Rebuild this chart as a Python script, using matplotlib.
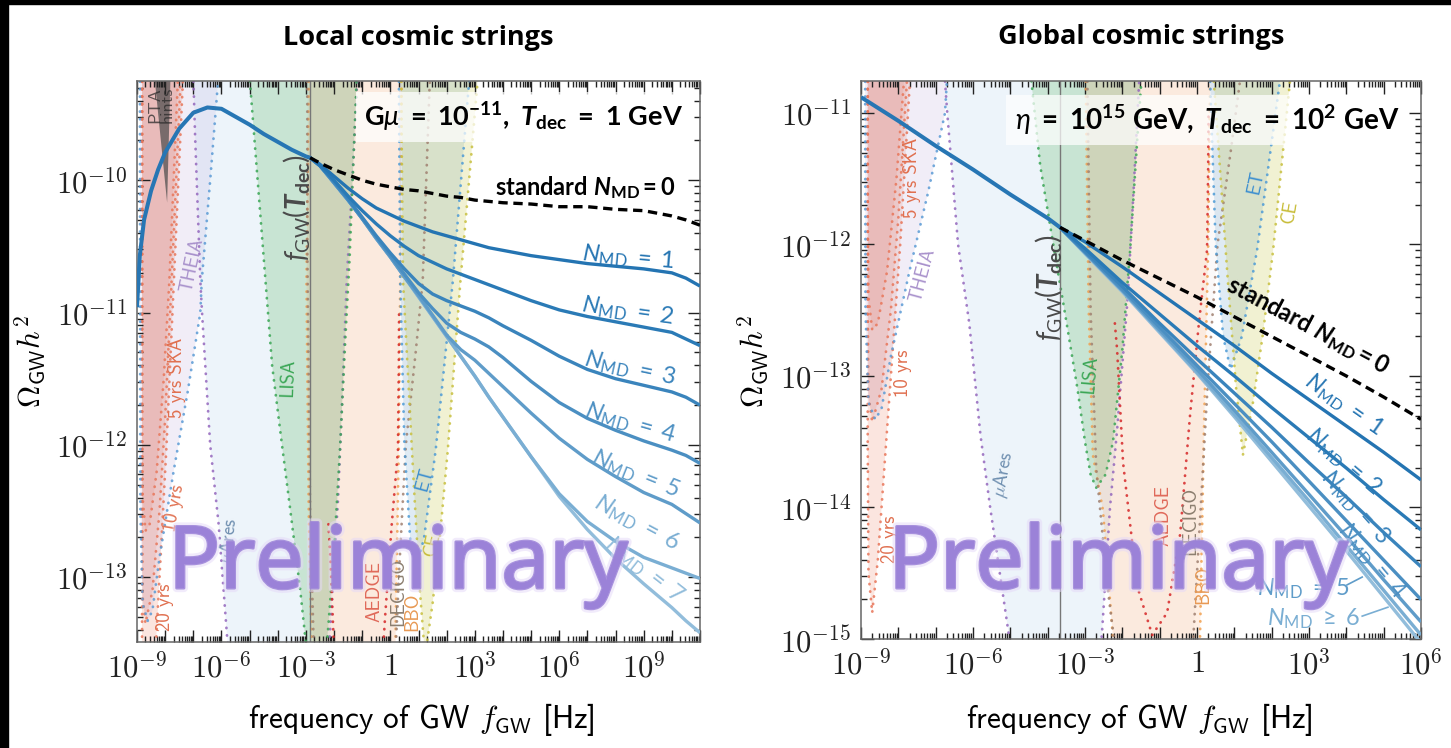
import numpy as np
import matplotlib
matplotlib.use("Agg")
import matplotlib.pyplot as plt
from matplotlib import patheffects as pe
from matplotlib.patches import Rectangle
from matplotlib.lines import Line2D
from matplotlib.ticker import LogLocator, FuncFormatter, NullFormatter

plt.rcParams.update({
    "mathtext.fontset": "cm",
    "mathtext.rm": "Lato",
    "mathtext.it": "Lato:italic",
    "mathtext.bf": "Lato:bold",
    "mathtext.bfit": "Lato:italic:bold",
    "mathtext.sf": "Lato",
})

# ---------------------------------------------------------------- spectra
# all values are log10(f / Hz) and log10(Omega_GW h^2)

# local strings, G mu = 1e-11, T_dec = 1 GeV
local_lf_early = [-9.0, -8.9, -8.75, -8.5, -8.25, -8.0, -7.5, -7.0, -6.5, -6.0,
                  -5.5, -5.0, -4.5, -4.0, -3.5, -3.0, -2.85]
local_lo_early = [-10.96, -10.57, -10.30, -10.08, -9.92, -9.79, -9.61, -9.49, -9.45, -9.46,
                  -9.52, -9.58, -9.65, -9.71, -9.77, -9.82, -9.83]
local_lf_late = [-2.85, -2.5, -2, -1.5, -1, -0.5, 0, 0.5, 1, 1.5, 2, 2.5, 3, 3.5, 4,
                 5, 6, 7, 8, 9, 10, 10.5, 11]
local_lo_std = [-9.83, -9.87, -9.92, -9.96, -10.00, -10.03, -10.05, -10.07, -10.08, -10.10, -10.12,
                -10.13, -10.15, -10.16, -10.17, -10.18, -10.20, -10.20, -10.22, -10.23, -10.27,
                -10.30, -10.34]
local_lo_nmd1 = [-9.83, -9.88, -9.97, -10.06, -10.14, -10.21, -10.26, -10.31, -10.35, -10.39,
                 -10.42, -10.45, -10.48, -10.51, -10.53, -10.57, -10.60, -10.63, -10.65, -10.67,
                 -10.70, -10.74, -10.80]
local_lo_nmd2 = [-9.83, -9.89, -10.00, -10.12, -10.23, -10.33, -10.42, -10.50, -10.57, -10.62,
                 -10.67, -10.71, -10.75, -10.79, -10.83, -10.91, -10.98, -11.03, -11.07, -11.11,
                 -11.15, -11.20, -11.25]
local_lo_nmd3 = [-9.83, -9.89, -10.01, -10.14, -10.28, -10.42, -10.55, -10.67, -10.78, -10.86,
                 -10.91, -10.95, -10.99, -11.04, -11.10, -11.21, -11.33, -11.43, -11.50, -11.55,
                 -11.60, -11.64, -11.70]
local_lo_nmd4 = [-9.83, -9.89, -10.02, -10.15, -10.29, -10.43, -10.57, -10.71, -10.85, -10.97,
                 -11.08, -11.15, -11.20, -11.26, -11.34, -11.52, -11.68, -11.80, -11.89, -11.97,
                 -12.04, -12.08, -12.14]
local_lo_nmd5 = [-9.83, -9.89, -10.02, -10.15, -10.29, -10.44, -10.58, -10.73, -10.87, -11.02,
                 -11.17, -11.28, -11.36, -11.46, -11.56, -11.76, -11.95, -12.11, -12.24, -12.36,
                 -12.45, -12.52, -12.59]
local_lo_nmd6 = [-9.83, -9.89, -10.02, -10.15, -10.29, -10.44, -10.58, -10.73, -10.88, -11.03,
                 -11.18, -11.33, -11.48, -11.64, -11.79, -12.09, -12.37, -12.58, -12.73, -12.85,
                 -12.93, -12.97, -13.01]
local_lo_nmd7 = [-9.83, -9.89, -10.02, -10.15, -10.29, -10.44, -10.58, -10.73, -10.88, -11.03,
                 -11.18, -11.33, -11.48, -11.64, -11.79, -12.09, -12.39, -12.64, -12.86, -13.05,
                 -13.23, -13.33, -13.42]
local_lf_dec = -2.85

# global strings, eta = 1e15 GeV, T_dec = 1e2 GeV
global_lf_early = [-9, -8, -7, -6, -5, -4, -3.67]
global_lo_early = [-10.88, -11.06, -11.25, -11.43, -11.62, -11.80, -11.87]
global_lf_late = [-3.67, -3, -2, -1, 0, 1, 2, 3, 4, 5, 6]
global_lo_std = [-11.87, -11.97, -12.12, -12.26, -12.40, -12.55, -12.70, -12.85, -13.00, -13.16, -13.33]
global_lo_nmd1 = [-11.87, -11.98, -12.17, -12.37, -12.57, -12.77, -12.98, -13.18, -13.38, -13.58, -13.79]
global_lo_nmd2 = [-11.87, -12.03, -12.29, -12.53, -12.77, -13.00, -13.24, -13.47, -13.70, -13.94, -14.17]
global_lo_nmd3 = [-11.87, -12.05, -12.32, -12.60, -12.87, -13.13, -13.39, -13.66, -13.92, -14.19, -14.45]
global_lo_nmd4 = [-11.87, -12.06, -12.34, -12.63, -12.92, -13.21, -13.50, -13.80, -14.10, -14.40, -14.70]
global_lo_nmd5 = [-11.87, -12.06, -12.35, -12.65, -12.95, -13.26, -13.58, -13.90, -14.22, -14.55, -14.87]
global_lo_nmd6 = [-11.87, -12.06, -12.35, -12.66, -12.97, -13.29, -13.62, -13.95, -14.29, -14.63, -14.97]
global_lo_nmd7 = [-11.87, -12.07, -12.36, -12.67, -12.98, -13.31, -13.65, -13.99, -14.33, -14.68, -15.03]
global_lf_dec = -3.67

# ---------------------------------------------------------------- detector sensitivities
ska5_lf = [-8.82, -8.82, -8.80, -8.70, -8.55, -8.30, -8.05, -7.85, -7.55, -7.40]
ska5_lo = [-8.50, -11.80, -12.40, -12.65, -12.60, -12.20, -11.50, -10.76, -9.25, -8.50]
ska10_lf = [-8.82, -8.82, -8.80, -8.70, -8.45, -8.20, -8.00, -7.77, -7.45, -7.30]
ska10_lo = [-8.50, -12.50, -13.15, -13.35, -13.10, -12.50, -11.80, -10.76, -9.25, -8.50]
ska20_lf = [-8.82, -8.82, -8.80, -8.70, -8.55, -8.40, -8.20, -7.95, -7.69, -7.37, -7.20]
ska20_lo = [-8.50, -13.50, -14.50, -14.80, -14.40, -13.80, -13.00, -12.00, -10.76, -9.25, -8.50]
pta_lf = [-8.72, -7.72, -7.93]
pta_lo = [-8.50, -8.50, -10.17]
theia_lf = [-8.90, -8.88, -8.80, -8.62, -8.45, -8.20, -7.70, -7.20, -6.75, -6.70, -6.40, -6.12, -6.05]
theia_lo = [-8.50, -12.50, -13.20, -13.33, -13.25, -12.85, -12.20, -11.60, -11.00, -10.76, -10.00, -9.25, -8.50]
mu_ares_lf = [-7.10, -6.94, -6.75, -6.69, -6.40, -6.10, -5.80, -5.54, -5.06, -4.60, -4.00, -3.20,
              -2.80, -2.54, -2.33, -2.14, -1.86, -1.70, -1.55, -1.35, -1.18, -1.10]
mu_ares_lo = [-8.50, -9.64, -10.76, -11.00, -12.00, -12.60, -13.45, -14.00, -14.93, -15.80, -16.50, -16.60,
              -16.00, -14.93, -14.00, -13.41, -12.42, -11.60, -10.76, -10.00, -9.25, -8.50]
lisa_lf = [-5.30, -4.99, -4.52, -4.20, -3.85, -3.55, -3.20, -3.00, -2.85, -2.70,
           -2.45, -2.25, -2.00, -1.79, -1.60, -1.45, -1.20, -1.05]
lisa_lo = [-8.50, -9.25, -10.53, -11.40, -12.00, -12.50, -13.10, -13.50, -13.75, -13.85,
           -13.75, -13.50, -12.80, -12.04, -11.20, -10.60, -9.25, -8.50]
bbo_lf = [-2.90, -2.90, -2.98, -2.90, -2.79, -2.52, -2.25, -1.90, -1.20, -0.40,
          0.00, 0.08, 0.18, 0.30, 0.35, 0.40, 0.45]
bbo_lo = [-8.50, -9.25, -10.76, -12.50, -13.60, -14.02, -15.00, -16.20, -17.00, -16.80,
          -16.00, -15.00, -13.50, -12.00, -10.76, -9.25, -8.50]
decigo_lf = [-2.95, -2.95, -2.85, -2.70, -2.40, -2.00, -1.00, -0.30, -0.10, 0.10, 0.30,
             0.55, 0.90, 1.15, 1.40, 1.50]
decigo_lo = [-8.50, -10.50, -12.50, -13.70, -14.60, -15.50, -16.30, -15.90, -15.00, -14.00, -13.00,
             -12.00, -11.30, -10.76, -9.25, -8.50]
aedge_lf = [-2.20, -2.14, -1.98, -1.60, -1.20, -0.80, -0.45, -0.19, 0.05, 0.27, 0.30, 0.31]
aedge_lo = [-12.60, -12.80, -13.66, -14.60, -14.97, -14.80, -14.20, -13.31, -12.60, -12.04, -11.40, -11.00]
et_lf = [0.28, 0.35, 0.50, 0.70, 0.90, 1.20, 1.61, 2.22, 2.80, 2.95]
et_lo = [-8.50, -10.76, -12.00, -12.70, -12.95, -12.70, -12.04, -10.76, -9.25, -8.50]
ce_lf = [0.35, 0.45, 0.83, 1.05, 1.23, 1.50, 1.77, 2.04, 2.49, 3.10, 3.25]
ce_lo = [-8.50, -10.76, -12.29, -13.10, -13.60, -13.20, -12.67, -12.04, -10.76, -9.25, -8.50]

# drawing order: lf, lo, fill colour, fill alpha, dotted edge colour
detectors = [
    (ska20_lf, ska20_lo, "#f08a70", 0.22, "#e8765a"),
    (ska10_lf, ska10_lo, "#f08a70", 0.22, "#e8765a"),
    (ska5_lf, ska5_lo, "#f08a70", 0.22, "#e8765a"),
    (theia_lf, theia_lo, "#b9a6d9", 0.20, "#5b9bd5"),
    (mu_ares_lf, mu_ares_lo, "#a9c8e8", 0.20, "#9467bd"),
    (lisa_lf, lisa_lo, "#2ca02c", 0.19, "#3aa655"),
    (bbo_lf, bbo_lo, "#ffa45c", 0.17, "#f0a050"),
    (decigo_lf, decigo_lo, "#8c564b", 0.03, "#a08070"),
    (aedge_lf, aedge_lo, "#d62728", 0.0, "#d62728"),
    (et_lf, et_lo, "#1f77b4", 0.14, "#4d9bd6"),
    (ce_lf, ce_lo, "#bcbd22", 0.20, "#c8c040"),
]

nmd_colors = ["#2474b2", "#2a7ab6", "#3a84bc", "#4b8fc2", "#5f9cc9", "#7aaed3", "#92bddb"]
main_color = "#2776b4"


def p10(a):
    return np.power(10.0, np.asarray(a, dtype=float))


fig = plt.figure(figsize=(14.51, 7.48), dpi=100)
fig.patch.set_facecolor("white")
W, H = 1451.0, 748.0
axL = fig.add_axes([137 / W, 1 - 642 / H, 563 / W, 561 / H])
axR = fig.add_axes([861 / W, 1 - 639 / H, 560 / W, 558 / H])

dot_style = (0, (0.1, 2.6))


def draw_detectors(ax):
    for lf, lo, fc, al, ec in detectors:
        if al > 0:
            ax.fill(p10(lf), p10(lo), color=fc, alpha=al, lw=0, zorder=1)
        ax.plot(p10(lf), p10(lo), color=ec, lw=2.0, ls=dot_style,
                dash_capstyle="round", alpha=0.85, zorder=2)


def style_axes(ax, xlim, ylim, xlabel_every):
    ax.set_xscale("log")
    ax.set_yscale("log")
    ax.set_xlim(*xlim)
    ax.set_ylim(*ylim)
    ax.xaxis.set_major_locator(LogLocator(base=10, numticks=100))
    ax.yaxis.set_major_locator(LogLocator(base=10, numticks=100))
    ax.xaxis.set_minor_locator(LogLocator(base=10, subs=np.arange(2, 10), numticks=100))
    ax.yaxis.set_minor_locator(LogLocator(base=10, subs=np.arange(2, 10), numticks=100))

    def xfmt(v, pos):
        e = int(round(np.log10(v)))
        if e % xlabel_every:
            return ""
        if e == 0:
            return r"$1$"
        return r"$10^{%d}$" % e

    def yfmt(v, pos):
        e = int(round(np.log10(v)))
        return r"$10^{%d}$" % e

    ax.xaxis.set_major_formatter(FuncFormatter(xfmt))
    ax.yaxis.set_major_formatter(FuncFormatter(yfmt))
    ax.xaxis.set_minor_formatter(NullFormatter())
    ax.yaxis.set_minor_formatter(NullFormatter())
    ax.tick_params(which="both", direction="in", top=True, right=True, colors="#222222",
                   labelsize=22, width=1.0)
    ax.tick_params(which="major", length=9, pad=7)
    ax.tick_params(which="minor", length=4.5)
    for s in ax.spines.values():
        s.set_color("#666666")
        s.set_linewidth(1.1)


dash_style = (0, (2.8, 1.7))

# ---------------------------------------------------------------- left panel
axL.fill(p10(pta_lf), p10(pta_lo), color="#4d4d4d", alpha=0.72, lw=0, zorder=1.5)
draw_detectors(axL)
axL.axvline(10 ** local_lf_dec, color="#777777", lw=1.0, zorder=2.5)
axL.plot(p10(local_lf_early), p10(local_lo_early), color=main_color, lw=2.9, zorder=5,
         solid_capstyle="butt")
local_nmd = [local_lo_nmd1, local_lo_nmd2, local_lo_nmd3, local_lo_nmd4,
             local_lo_nmd5, local_lo_nmd6, local_lo_nmd7]
for i, lo in reversed(list(enumerate(local_nmd))):
    axL.plot(p10(local_lf_late), p10(lo), color=nmd_colors[i], lw=2.4, zorder=4,
             solid_capstyle="butt", solid_joinstyle="round")
axL.plot(p10(local_lf_late), p10(local_lo_std), color="black", lw=2.4,
         ls=dash_style, zorder=6)
style_axes(axL, (1e-9, 1e11), (10 ** -13.49, 10 ** -9.25), 3)

# ---------------------------------------------------------------- right panel
draw_detectors(axR)
axR.axvline(10 ** global_lf_dec, color="#777777", lw=1.0, zorder=2.5)
axR.plot(p10(global_lf_early), p10(global_lo_early), color=main_color, lw=2.9, zorder=5,
         solid_capstyle="butt")
global_nmd = [global_lo_nmd1, global_lo_nmd2, global_lo_nmd3, global_lo_nmd4,
              global_lo_nmd5, global_lo_nmd6, global_lo_nmd7]
for i, lo in reversed(list(enumerate(global_nmd))):
    axR.plot(p10(global_lf_late), p10(lo), color=nmd_colors[i], lw=2.4, zorder=4,
             solid_capstyle="butt")
axR.plot(p10(global_lf_late), p10(global_lo_std), color="black", lw=2.4,
         ls=dash_style, zorder=6)
style_axes(axR, (1e-9, 1e6), (1e-15, 10 ** -10.757), 3)

# ---------------------------------------------------------------- detector labels
lab_kw = dict(family="cmss10", fontsize=13.5, ha="center", va="center", zorder=7)
labels_left = [
    ("5 yrs SKA", -7.58, -11.49, 90, "#e07050"),
    ("10 yrs", -7.69, -12.48, 80, "#e07050"),
    ("20 yrs", -8.01, -13.23, 90, "#e07050"),
    ("THEIA", -7.05, -10.64, 78, "#a992cc"),
    (r"$\mu$Ares", -5.73, -12.73, 85, "#6f8fb0"),
    ("LISA", -3.64, -11.49, 88, "#3aa655"),
    ("AEDGE", -0.55, -13.11, 90, "#e06a5a"),
    ("DECIGO", 0.27, -13.11, 90, "#8c7f70"),
    ("BBO", 0.77, -13.26, 90, "#e89a55"),
    ("ET", 1.23, -12.26, 75, "#3d8fd0"),
    ("CE", 1.48, -12.75, 78, "#c8bd3a"),
]
labels_right = [
    ("5 yrs SKA", -7.63, -11.49, 90, "#e07050"),
    ("10 yrs", -7.87, -12.98, 90, "#e07050"),
    ("20 yrs", -8.22, -14.24, 90, "#e07050"),
    ("THEIA", -7.34, -12.23, 75, "#a992cc"),
    (r"$\mu$Ares", -5.20, -13.75, 80, "#6f8fb0"),
    ("LISA", -2.87, -12.99, 85, "#3aa655"),
    ("AEDGE", -0.91, -14.06, 90, "#e06a5a"),
    ("DECIGO", -0.19, -14.10, 90, "#8c7f70"),
    ("BBO", 0.16, -14.59, 90, "#e89a55"),
    ("ET", 1.58, -11.53, 78, "#3d8fd0"),
    ("CE", 2.49, -11.75, 80, "#c8bd3a"),
]
for ax, labs in ((axL, labels_left), (axR, labels_right)):
    for txt, lf, lo, rot, col in labs:
        ax.text(10 ** lf, 10 ** lo, txt, rotation=rot, color=col, **lab_kw)

axL.text(10 ** -8.15, 10 ** -9.43, "PTA\nhints", rotation=90, family="cmss10", fontsize=13,
         color="#2a2a2a", alpha=0.75, ha="center", va="center", linespacing=0.85, zorder=7)

fdec_txt = r"$\mathit{f}_{\mathrm{GW}}(\mathbfit{T}_{\mathbf{dec}})$"
axL.text(10 ** -3.35, 10 ** -10.21, fdec_txt, rotation=90, fontsize=20, color="#4a4a4a",
         ha="center", va="center", math_fontfamily="custom", zorder=7)
axR.text(10 ** -3.99, 10 ** -12.33, fdec_txt, rotation=90, fontsize=20, color="#4a4a4a",
         ha="center", va="center", math_fontfamily="custom", zorder=7)

# ---------------------------------------------------------------- parameter boxes
box = dict(boxstyle="square,pad=0.3", fc="white", ec="none", alpha=0.72)
axL.text(0.686, 0.936,
         r"$\mathbf{G}\mu\ \mathbf{=\ 10^{-11},}\ \mathbfit{T}_{\mathbf{dec}}\ \mathbf{=\ 1\ GeV}$",
         transform=axL.transAxes, fontsize=19.5, ha="center", va="center",
         math_fontfamily="custom", bbox=box, zorder=8)
axR.text(0.618, 0.930,
         r"$\eta\ \mathbf{=\ 10^{15}\ GeV,}\ \mathbfit{T}_{\mathbf{dec}}\ \mathbf{=\ 10^{2}\ GeV}$",
         transform=axR.transAxes, fontsize=20, ha="center", va="center",
         math_fontfamily="custom", bbox=box, zorder=8)

# ---------------------------------------------------------------- curve labels
std_txt = r"$\mathbf{standard}\ \mathbfit{N}_{\mathbf{MD}}\mathbf{=0}$"
axL.text(0.797, 0.809, std_txt, transform=axL.transAxes, fontsize=17, ha="center",
         va="center", math_fontfamily="custom", zorder=8)
axR.text(0.798, 0.562, std_txt, transform=axR.transAxes, fontsize=17, ha="center",
         va="center", rotation=-28, math_fontfamily="custom", zorder=8)

nlab_left = [(0.872, 0.684, -5), (0.872, 0.590, -8), (0.876, 0.488, -12), (0.876, 0.390, -16),
             (0.885, 0.300, -22), (0.888, 0.212, -28), (0.902, 0.128, -38)]
for i, (fx, fy, rot) in enumerate(nlab_left):
    axL.text(fx, fy, r"$N_{\mathrm{MD}}\ =\ %d$" % (i + 1), transform=axL.transAxes,
             fontsize=17, color=nmd_colors[i], rotation=rot, ha="center", va="center",
             math_fontfamily="custom", zorder=8)

nlab_right = [(0.862, 0.420, -35), (0.862, 0.318, -40), (0.882, 0.236, -48), (0.912, 0.140, -50)]
for i, (fx, fy, rot) in enumerate(nlab_right):
    axR.text(fx, fy, r"$N_{\mathrm{MD}}\ =\ %d$" % (i + 1), transform=axR.transAxes,
             fontsize=16.5, color=nmd_colors[i], rotation=rot, ha="center", va="center",
             math_fontfamily="custom", zorder=8)
axR.text(0.790, 0.091, r"$N_{\mathrm{MD}}\ =\ 5$", transform=axR.transAxes, fontsize=17,
         color=nmd_colors[4], ha="center", va="center", math_fontfamily="custom", zorder=8)
axR.text(0.808, 0.036, r"$N_{\mathrm{MD}}\ \geq\ 6$", transform=axR.transAxes, fontsize=17,
         color=nmd_colors[5], ha="center", va="center", math_fontfamily="custom", zorder=8)
axR.add_line(Line2D([0.868, 0.895], [0.097, 0.111], transform=axR.transAxes,
                    color=nmd_colors[4], lw=1.2, zorder=8))
axR.add_line(Line2D([0.895, 0.941], [0.041, 0.057], transform=axR.transAxes,
                    color=nmd_colors[5], lw=1.2, zorder=8))

# ---------------------------------------------------------------- titles and axis labels
fig.text(418 / W, 1 - 38 / H, "Local cosmic strings", family="Open Sans", weight="bold",
         fontsize=19.5, ha="center", va="center")
fig.text(1141 / W, 1 - 37 / H, "Global cosmic strings", family="Open Sans", weight="bold",
         fontsize=19.5, ha="center", va="center")
xl = r"frequency of GW $f_{\mathsf{GW}}$ [Hz]"
fig.text(421 / W, 1 - 720 / H, xl, family="cmss10", fontsize=22.5, ha="center", va="center")
fig.text(1139 / W, 1 - 720 / H, xl, family="cmss10", fontsize=22.5, ha="center", va="center")
yl = r"$\Omega_{\mathsf{GW}}h^2$"
fig.text(30 / W, 1 - 362 / H, yl, fontsize=22, rotation=90, ha="center", va="center")
fig.text(753 / W, 1 - 362 / H, yl, fontsize=22, rotation=90, ha="center", va="center")

# ---------------------------------------------------------------- watermark
wm_fx = [pe.withStroke(linewidth=6, foreground="#e4d8f8", alpha=0.5),
         pe.withStroke(linewidth=2.2, foreground="#9b82d8"), pe.Normal()]
for cx in (398 / W, 1118 / W):
    fig.text(cx, 1 - 588 / H, "Preliminary", family="Open Sans", fontsize=62,
             color="#9b82d8", alpha=0.85, ha="center", va="baseline", zorder=30,
             path_effects=wm_fx)

# thin black frame pieces along the top and left edge
fig.patches.append(Rectangle((0, 1 - 4 / H), 1, 4 / H, transform=fig.transFigure,
                             color="black", zorder=50))
fig.patches.append(Rectangle((0, 0), 8 / W, 1, transform=fig.transFigure,
                             color="black", zorder=50))

fig.savefig("out.png", dpi=100, facecolor="white")
